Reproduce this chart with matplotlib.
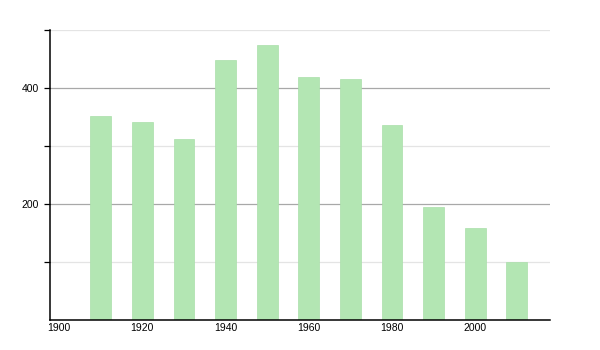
import matplotlib
matplotlib.use("Agg")
import matplotlib.pyplot as plt

# Dados
anos = [1910, 1920, 1930, 1940, 1950, 1960, 1970, 1980, 1990, 2000, 2010]
valores = [352, 341, 312, 448, 474, 419, 415, 336, 195, 159, 100]
xticks = [1900, 1920, 1940, 1960, 1980, 2000]
yticks_major = [200, 400]
yticks_minor = [100, 300, 500]

plt.rcParams["font.family"] = ["Liberation Sans", "DejaVu Sans"]

fig = plt.figure(figsize=(6, 3.5), dpi=100)
ax = fig.add_axes([50 / 600, 30 / 350, 500 / 600, 290 / 350])

ax.bar(anos, valores, width=5, color="#b3e6b3", edgecolor="#aadfaa", linewidth=0.5, zorder=2)

ax.set_xlim(1897.8, 2018)
ax.set_ylim(0, 500)

ax.set_xticks(xticks)
ax.set_xticklabels([str(a) for a in xticks])
ax.set_yticks(yticks_major)
ax.set_yticks(yticks_minor, minor=True)
ax.set_yticklabels([str(v) for v in yticks_major])

# Grades: principais mais escuras, secundárias claras
ax.grid(True, which="major", axis="y", color="#a8a8a8", linewidth=0.9, zorder=1)
ax.grid(True, which="minor", axis="y", color="#e4e4e4", linewidth=0.9, zorder=1)
ax.set_axisbelow(True)

ax.tick_params(axis="x", length=0, labelsize=7.5, pad=2)
ax.tick_params(axis="y", which="both", length=4, width=0.9, labelsize=7.5, pad=4)

for s in ["top", "right"]:
    ax.spines[s].set_visible(False)
ax.spines["left"].set_linewidth(1.1)
ax.spines["bottom"].set_linewidth(1.1)
ax.spines["bottom"].set_zorder(3)

fig.savefig("out.png", dpi=100)
plt.close(fig)
